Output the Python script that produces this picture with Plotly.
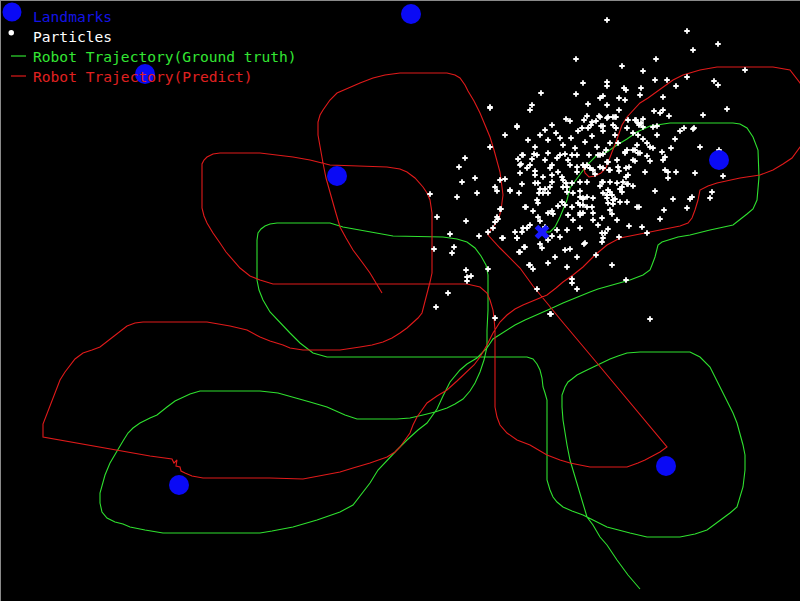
import plotly.graph_objects as go

# ---------------- data (pixel-space coordinates, y down) ----------------
landmarks_x = [411, 145, 337, 719, 179, 666]
landmarks_y = [14, 74, 176, 160, 485, 466]

estimate_x = [542]
estimate_y = [232]

ground_truth = [
    (640, 589), (628, 575), (617, 560), (607, 545), (600, 537), (593, 525), (587, 517), (582, 500),
    (577, 483), (573, 470), (570, 460), (567, 445), (565, 433), (563, 420), (562, 407), (562, 395),
    (565, 387), (568, 382), (572, 379), (577, 375), (585, 371), (593, 367), (602, 363), (610, 359),
    (618, 356), (627, 353), (640, 352), (665, 352), (690, 352), (700, 357), (705, 362), (710, 367),
    (715, 377), (720, 387), (727, 400), (733, 413), (737, 423), (740, 433), (743, 445), (745, 455),
    (745, 470), (743, 487), (740, 497), (737, 507), (730, 513), (723, 518), (715, 524), (707, 530),
    (695, 534), (680, 537), (663, 537), (647, 537), (630, 533), (618, 530), (607, 527), (595, 521),
    (583, 515), (572, 511), (563, 507), (557, 502), (553, 497), (550, 490), (547, 480), (547, 460),
    (547, 440), (547, 420), (547, 400), (545, 393), (543, 387), (542, 378), (540, 370), (537, 364),
    (533, 359), (527, 357), (480, 357), (400, 357), (327, 357), (313, 353), (300, 343), (290, 333),
    (280, 323), (270, 312), (263, 300), (259, 290), (257, 280), (257, 260), (257, 240), (258, 233),
    (261, 229), (265, 226), (270, 224), (277, 223), (330, 223), (343, 227), (370, 232), (393, 236),
    (443, 237), (457, 239), (467, 242), (475, 248), (481, 256), (486, 265), (488, 275), (488, 290),
    (488, 310), (487, 330), (487, 347), (484, 360), (480, 372), (475, 383), (470, 391), (463, 399),
    (455, 404), (447, 408), (435, 412), (423, 415), (410, 418), (397, 419), (357, 419), (345, 415),
    (327, 407), (310, 402), (293, 397), (278, 393), (260, 391), (200, 391), (190, 394), (183, 397),
    (175, 401), (167, 407), (162, 411), (157, 415), (150, 418), (140, 423), (133, 428), (128, 433),
    (123, 441), (118, 450), (114, 457), (110, 463), (105, 475), (102, 485), (100, 493), (100, 503),
    (102, 512), (107, 518), (115, 522), (123, 524), (130, 527), (145, 530), (163, 533), (200, 533),
    (260, 533), (272, 531), (293, 527), (317, 520), (340, 512), (353, 505), (361, 495), (370, 483),
    (378, 470), (387, 460), (397, 450), (407, 440), (418, 430), (427, 423), (432, 416), (437, 409),
    (443, 396), (450, 382), (460, 370), (467, 364), (477, 358), (487, 348), (493, 339), (505, 331),
    (515, 325), (525, 320), (537, 315), (550, 309), (563, 303), (577, 297), (590, 292), (598, 289),
    (613, 285), (630, 280), (643, 275), (650, 270), (652, 265), (655, 257), (658, 245), (662, 242),
    (678, 237), (690, 235), (710, 230), (733, 225), (747, 214), (753, 209), (757, 200), (759, 177),
    (758, 150), (753, 137), (747, 128), (740, 124), (733, 123), (670, 123), (650, 126), (637, 132),
    (627, 139), (617, 145), (607, 152), (597, 155), (587, 165), (580, 175), (575, 181), (570, 188),
    (567, 200), (560, 217), (555, 227), (550, 232), (542, 232),
]

predicted = [
    (382, 293), (376, 283), (370, 273), (362, 262), (353, 250), (346, 238), (340, 227), (335, 210),
    (330, 193), (326, 178), (323, 163), (320, 147), (318, 135), (318, 122), (320, 115), (323, 110),
    (330, 100), (337, 93), (348, 88), (360, 83), (373, 78), (385, 75), (400, 73), (447, 73),
    (455, 75), (460, 78), (465, 85), (468, 91), (474, 101), (480, 113), (485, 125), (490, 137),
    (494, 150), (497, 160), (500, 172), (502, 187), (503, 195), (501, 210), (499, 218), (494, 226),
    (490, 231), (488, 235), (500, 248), (520, 268), (533, 286), (547, 303), (560, 319), (597, 363),
    (630, 403), (667, 447), (660, 452), (653, 456), (645, 460), (638, 463), (627, 467), (610, 467),
    (590, 467), (570, 463), (560, 460), (547, 455), (538, 450), (530, 445), (517, 440), (507, 433),
    (500, 425), (497, 417), (495, 407), (495, 380), (495, 350), (495, 330), (494, 318), (493, 310),
    (490, 300), (487, 293), (480, 287), (467, 284), (400, 284), (273, 284), (260, 280), (250, 276),
    (240, 268), (233, 260), (226, 252), (220, 243), (213, 233), (207, 223), (204, 216), (202, 208),
    (202, 185), (202, 164), (204, 160), (207, 157), (213, 154), (220, 153), (260, 153), (293, 157),
    (310, 160), (322, 163), (330, 165), (387, 167), (400, 169), (407, 172), (415, 178), (423, 187),
    (427, 193), (430, 200), (432, 213), (432, 240), (432, 273), (430, 282), (428, 290), (425, 300),
    (422, 313), (418, 318), (413, 323), (407, 328), (400, 333), (392, 338), (383, 342), (372, 345),
    (360, 347), (340, 350), (303, 350), (290, 348), (283, 345), (270, 341), (260, 337), (247, 330),
    (230, 326), (207, 322), (143, 322), (135, 323), (127, 326), (115, 335), (100, 347), (92, 350),
    (83, 353), (75, 359), (70, 365), (65, 372), (60, 380), (55, 393), (50, 405), (46, 416),
    (43, 424), (43, 437), (150, 456), (172, 459), (174, 463), (177, 460), (176, 466), (180, 467),
    (181, 471), (185, 473), (192, 476), (203, 478), (270, 478), (303, 479), (320, 476), (340, 472),
    (353, 468), (370, 463), (387, 457), (395, 452), (400, 447), (405, 440), (410, 433), (413, 425),
    (417, 417), (422, 410), (427, 403), (437, 396), (447, 390), (457, 381), (467, 372), (474, 365),
    (480, 357), (487, 345), (493, 333), (500, 322), (507, 315), (515, 309), (523, 305), (535, 300),
    (547, 295), (556, 288), (563, 282), (573, 275), (583, 267), (595, 255), (607, 245), (620, 238),
    (640, 234), (660, 230), (680, 226), (688, 223), (692, 218), (695, 210), (698, 200), (700, 190),
    (708, 186), (717, 183), (740, 178), (760, 175), (773, 170), (783, 164), (792, 158), (800, 147),
    (807, 136), (811, 118), (809, 98), (800, 83), (790, 70), (773, 67), (717, 67), (700, 70),
    (683, 75), (673, 80), (665, 86), (657, 92), (648, 98), (640, 103), (633, 110), (627, 117),
    (622, 125), (619, 134), (616, 142), (612, 152), (609, 161), (606, 168), (601, 173), (595, 176),
    (589, 177), (585, 173), (583, 165),
]

particles = [
    (607, 20), (687, 31), (718, 44), (693, 50), (576, 59), (656, 59), (622, 66), (643, 71), (745, 70),
    (687, 77), (714, 81), (718, 85), (655, 80), (667, 80), (583, 83), (607, 82), (607, 86), (641, 88),
    (676, 86), (541, 93), (576, 94), (624, 88), (626, 90), (640, 95), (663, 97), (600, 98), (603, 96),
    (619, 98), (625, 100), (532, 105), (530, 110), (490, 107), (588, 104), (607, 105), (619, 110),
    (654, 111), (663, 110), (660, 113), (727, 109), (703, 115), (669, 116), (566, 119), (570, 121),
    (587, 116), (599, 116), (607, 118), (613, 117), (616, 117), (628, 120), (636, 120), (643, 119),
    (641, 123), (639, 125), (584, 120), (592, 122), (591, 125), (596, 121), (517, 126), (552, 125),
    (582, 128), (601, 126), (616, 128), (653, 127), (657, 126), (684, 128), (694, 128), (627, 128),
    (600, 117), (608, 117), (615, 117), (603, 126), (613, 125), (635, 120), (638, 123), (643, 127),
    (680, 131), (693, 129), (603, 131), (633, 133), (638, 135), (615, 135), (657, 135), (675, 139),
    (643, 139), (647, 143), (650, 147), (653, 148), (610, 143), (618, 143), (606, 150), (627, 150),
    (635, 150), (637, 145), (600, 155), (625, 153), (640, 153), (662, 152), (671, 148), (700, 147),
    (719, 150), (607, 162), (617, 160), (633, 160), (650, 161), (663, 160), (600, 167), (609, 170),
    (618, 167), (626, 168), (629, 167), (645, 172), (665, 170), (668, 172), (676, 172), (695, 173),
    (723, 176), (603, 182), (617, 183), (623, 182), (627, 184), (633, 186), (668, 178), (655, 191),
    (620, 189), (622, 187), (608, 190), (600, 186), (607, 198), (615, 199), (627, 202), (673, 199),
    (692, 197), (690, 199), (710, 198), (712, 192), (610, 210), (637, 207), (664, 210), (687, 208),
    (602, 218), (617, 220), (660, 219), (629, 226), (642, 227), (602, 233), (647, 233), (608, 229),
    (619, 237), (589, 155), (598, 155), (603, 154), (625, 152), (633, 150), (638, 153), (647, 156),
    (665, 157), (585, 167), (590, 168), (593, 170), (595, 174), (603, 168), (608, 162), (610, 170),
    (619, 171), (628, 175), (626, 177), (635, 161), (580, 182), (587, 182), (602, 182), (610, 182),
    (622, 192), (628, 184), (603, 193), (610, 192), (612, 195), (607, 195), (583, 198), (593, 198),
    (613, 200), (620, 202), (608, 203), (613, 204), (580, 205), (587, 207), (592, 207), (639, 207),
    (580, 213), (583, 213), (593, 213), (612, 214), (593, 220), (598, 225), (580, 228), (605, 233),
    (603, 238), (602, 242), (584, 244), (596, 255), (612, 265), (626, 280), (650, 319),
    (523, 155), (534, 154), (537, 155), (548, 153), (560, 155), (565, 154), (572, 155), (577, 155),
    (518, 159), (532, 159), (545, 160), (557, 158), (568, 160), (520, 165), (530, 165), (552, 165),
    (570, 165), (577, 167), (583, 165), (587, 165), (535, 171), (550, 168), (520, 173), (535, 175),
    (552, 175), (558, 172), (562, 177), (577, 172), (543, 177), (500, 180), (505, 179), (535, 183),
    (538, 183), (552, 182), (563, 180), (566, 183), (572, 183), (522, 184), (495, 187), (497, 191),
    (510, 191), (540, 189), (545, 189), (550, 187), (563, 187), (567, 187), (539, 193), (543, 193),
    (548, 193), (567, 192), (573, 193), (580, 191), (519, 193), (537, 200), (538, 203), (562, 202),
    (578, 203), (583, 199), (587, 197), (580, 197), (500, 209), (525, 207), (533, 211), (558, 206),
    (565, 205), (572, 207), (583, 205), (553, 214), (548, 213), (552, 211), (497, 217), (538, 217),
    (540, 221), (568, 215), (573, 220), (580, 215), (495, 222), (493, 228), (530, 225), (523, 228),
    (545, 227), (557, 230), (567, 230), (488, 232), (515, 232), (522, 232), (527, 228), (560, 237),
    (548, 240), (503, 238), (517, 238), (552, 236), (540, 244), (525, 247), (520, 252), (565, 250),
    (570, 249), (585, 243), (542, 248), (555, 257), (548, 263), (577, 257), (530, 265), (533, 269),
    (567, 267), (488, 269), (572, 279), (572, 283), (577, 289), (537, 289), (550, 314), (495, 318),
    (490, 108), (505, 135), (517, 127), (490, 147), (465, 158), (459, 167), (522, 155), (521, 164),
    (527, 168), (475, 178), (462, 182), (510, 190), (477, 193), (457, 197), (430, 194), (526, 207),
    (501, 209), (437, 217), (466, 221), (498, 219), (450, 234), (479, 236), (502, 238), (517, 238),
    (434, 249), (454, 247), (452, 253), (524, 247), (519, 252), (529, 265), (466, 270), (471, 276),
    (467, 277), (467, 281), (448, 293), (436, 307), (551, 314),
    (540, 135), (548, 140), (556, 133), (563, 145), (571, 138), (578, 131), (585, 142), (592, 136),
    (597, 147), (535, 147), (575, 148), (560, 138), (545, 130), (588, 128), (528, 140),
]

legend_labels = ["Landmarks", "Particles", "Robot Trajectory(Ground truth)", "Robot Trajectory(Predict)"]
legend_colors = ["#1414e6", "#ffffff", "#33e633", "#e02020"]

# ---------------- figure ----------------
gt_x = [p[0] for p in ground_truth]
gt_y = [p[1] for p in ground_truth]
pr_x = [p[0] for p in predicted]
pr_y = [p[1] for p in predicted]
pa_x = [p[0] for p in particles]
pa_y = [p[1] for p in particles]

fig = go.Figure()
fig.add_trace(go.Scatter(x=gt_x, y=gt_y, mode="lines", name=legend_labels[2],
                         line=dict(color="#2fe02f", width=1.1), showlegend=False))
fig.add_trace(go.Scatter(x=pr_x, y=pr_y, mode="lines", name=legend_labels[3],
                         line=dict(color="#e01a1a", width=1.1), showlegend=False))
fig.add_trace(go.Scatter(x=pa_x, y=pa_y, mode="markers", name=legend_labels[1],
                         marker=dict(symbol="cross", size=4.6, color="white", line=dict(width=0)),
                         showlegend=False))
fig.add_trace(go.Scatter(x=landmarks_x, y=landmarks_y, mode="markers", name=legend_labels[0],
                         marker=dict(symbol="circle", size=20, color="#0a0af5", line=dict(width=0)),
                         showlegend=False))
fig.add_trace(go.Scatter(x=estimate_x, y=estimate_y, mode="markers", name="Estimate",
                         marker=dict(symbol="x", size=13, color="#1a1aff", line=dict(width=0)),
                         showlegend=False))

# manual legend (top-left)
shapes = [
    dict(type="circle", xref="x", yref="y", x0=2.5, x1=21.5, y0=2.5, y1=21.5,
         fillcolor="#0a0af5", line=dict(width=0)),
    dict(type="circle", xref="x", yref="y", x0=8.5, x1=14, y0=30, y1=35.5,
         fillcolor="white", line=dict(width=0)),
    dict(type="line", xref="x", yref="y", x0=11, x1=26, y0=56, y1=56,
         line=dict(color="#2fe02f", width=1.2)),
    dict(type="line", xref="x", yref="y", x0=11, x1=26, y0=76, y1=76,
         line=dict(color="#e01a1a", width=1.2)),
    # window frame edges (top and left)
    dict(type="line", xref="paper", yref="paper", x0=0, x1=1, y0=1, y1=1,
         line=dict(color="#8a8a8a", width=2)),
    dict(type="line", xref="paper", yref="paper", x0=0, x1=0, y0=0, y1=1,
         line=dict(color="#8a8a8a", width=2)),
]
annotations = []
for i, (lab, col) in enumerate(zip(legend_labels, legend_colors)):
    annotations.append(dict(x=31, y=16 + 20 * i, xref="x", yref="y", text=lab, showarrow=False,
                            xanchor="left", yanchor="middle",
                            font=dict(family="DejaVu Sans Mono", size=14.6, color=col)))

fig.update_layout(
    width=800, height=601,
    margin=dict(l=0, r=0, t=0, b=0),
    paper_bgcolor="black", plot_bgcolor="black",
    xaxis=dict(range=[0, 800], visible=False, showgrid=False, zeroline=False, fixedrange=True),
    yaxis=dict(range=[601, 0], visible=False, showgrid=False, zeroline=False, fixedrange=True),
    shapes=shapes, annotations=annotations,
    showlegend=False,
)

fig.write_html("out.html")
